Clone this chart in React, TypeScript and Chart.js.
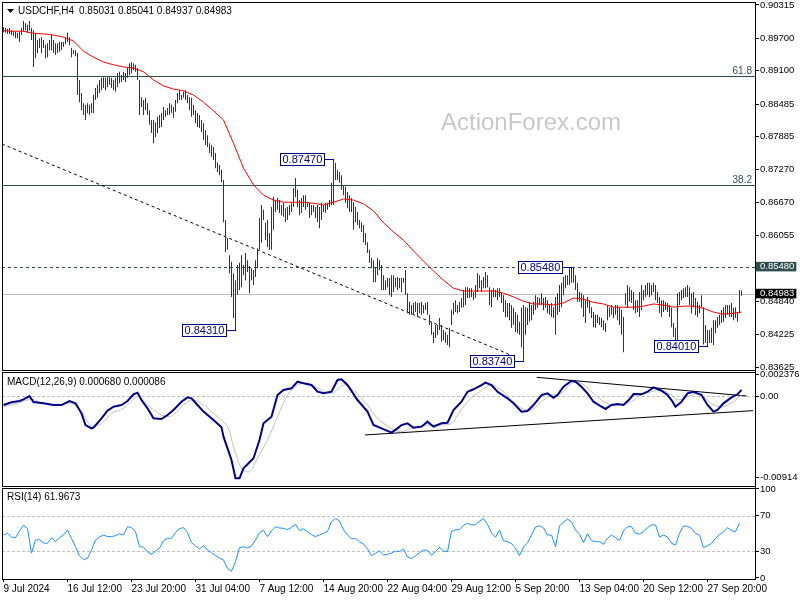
import React, { useEffect, useRef } from 'react';
import Chart from 'chart.js/auto';

const FONT = '"Liberation Sans", Arial, sans-serif';

// ---- H4 bars (bar index 0 = first bar on screen) ----
const barHigh = [
.8991,.8989,.8987,.8989,.8985,.8983,.8982,.8980,.8982,.8989,
.9002,.8998,.8995,.9002,.8989,.8985,.8980,.8967,.8970,.8972,
.8967,.8958,.8961,.8967,.8976,.8967,.8961,.8961,.8963,.8963,
.8963,.8972,.8980,.8972,.8952,.8948,.8948,.8943,.8893,.8869,
.8850,.8847,.8850,.8847,.8850,.8865,.8878,.8884,.8893,.8897,
.8898,.8897,.8898,.8898,.8897,.8893,.8897,.8906,.8908,.8902,
.8908,.8906,.8915,.8924,.8926,.8924,.8921,.8915,.8893,.8861,
.8856,.8860,.8850,.8837,.8819,.8819,.8815,.8825,.8828,.8832,
.8843,.8837,.8841,.8850,.8847,.8843,.8856,.8869,.8874,.8865,
.8871,.8874,.8865,.8861,.8860,.8847,.8837,.8832,.8828,.8819,
.8813,.8800,.8791,.8776,.8773,.8769,.8758,.8741,.8736,.8727,
.8708,.8634,.8601,.8569,.8557,.8536,.8523,.8551,.8555,.8569,
.8551,.8573,.8560,.8549,.8545,.8542,.8560,.8582,.8638,.8662,
.8653,.8629,.8634,.8610,.8658,.8677,.8671,.8675,.8671,.8662,
.8666,.8656,.8658,.8662,.8666,.8693,.8712,.8690,.8671,.8675,
.8680,.8680,.8667,.8667,.8662,.8662,.8658,.8662,.8658,.8666,
.8662,.8666,.8666,.8671,.8703,.8747,.8740,.8727,.8723,.8717,
.8699,.8695,.8686,.8680,.8675,.8667,.8658,.8649,.8634,.8630,
.8625,.8610,.8593,.8579,.8564,.8560,.8547,.8564,.8560,.8551,
.8532,.8523,.8527,.8527,.8532,.8532,.8527,.8529,.8527,.8527,
.8527,.8542,.8499,.8483,.8477,.8481,.8483,.8481,.8481,.8483,
.8477,.8481,.8483,.8459,.8446,.8427,.8440,.8440,.8453,.8440,
.8431,.8427,.8422,.8435,.8468,.8481,.8486,.8477,.8483,.8490,
.8505,.8510,.8510,.8508,.8508,.8501,.8514,.8536,.8532,.8523,
.8529,.8538,.8532,.8510,.8505,.8508,.8505,.8508,.8508,.8501,
.8495,.8486,.8481,.8481,.8477,.8472,.8464,.8459,.8446,.8472,
.8477,.8473,.8472,.8483,.8477,.8483,.8495,.8492,.8490,.8499,
.8490,.8492,.8486,.8477,.8481,.8473,.8492,.8499,.8514,.8518,
.8529,.8532,.8532,.8547,.8548,.8547,.8532,.8518,.8501,.8499,
.8495,.8486,.8492,.8486,.8473,.8464,.8459,.8459,.8455,.8453,
.8449,.8444,.8477,.8473,.8477,.8472,.8477,.8477,.8473,.8468,
.8455,.8499,.8514,.8510,.8505,.8501,.8486,.8486,.8501,.8514,
.8505,.8514,.8518,.8518,.8514,.8518,.8514,.8501,.8492,.8486,
.8486,.8483,.8481,.8477,.8472,.8444,.8435,.8499,.8501,.8505,
.8508,.8510,.8514,.8510,.8499,.8501,.8490,.8483,.8477,.8495,
.8473,.8440,.8431,.8431,.8435,.8449,.8449,.8455,.8459,.8468,
.8473,.8477,.8477,.8477,.8481,.8472,.8473,.8464,.8505,.8504];

const barLow = [
.8981,.8980,.8978,.8978,.8976,.8974,.8970,.8970,.8963,.8976,
.8983,.8985,.8980,.8985,.8967,.8917,.8933,.8943,.8952,.8943,
.8952,.8933,.8935,.8948,.8948,.8943,.8939,.8943,.8945,.8948,
.8954,.8959,.8963,.8957,.8935,.8941,.8937,.8865,.8852,.8837,
.8828,.8819,.8832,.8828,.8832,.8832,.8856,.8860,.8869,.8874,
.8878,.8874,.8880,.8884,.8878,.8874,.8871,.8880,.8887,.8889,
.8893,.8889,.8897,.8902,.8906,.8911,.8908,.8893,.8828,.8843,
.8828,.8837,.8828,.8810,.8795,.8776,.8787,.8795,.8804,.8806,
.8819,.8825,.8828,.8828,.8832,.8823,.8834,.8850,.8856,.8856,
.8860,.8856,.8850,.8837,.8825,.8828,.8813,.8806,.8804,.8797,
.8782,.8773,.8769,.8758,.8751,.8745,.8730,.8723,.8717,.8704,
.8630,.8575,.8579,.8536,.8492,.8453,.8431,.8496,.8505,.8510,
.8532,.8523,.8538,.8499,.8523,.8514,.8529,.8545,.8579,.8592,
.8634,.8597,.8584,.8579,.8579,.8616,.8649,.8653,.8647,.8643,
.8640,.8630,.8634,.8643,.8649,.8658,.8676,.8658,.8643,.8647,
.8658,.8653,.8658,.8638,.8643,.8649,.8638,.8630,.8619,.8634,
.8649,.8647,.8653,.8658,.8662,.8662,.8708,.8708,.8703,.8690,
.8680,.8666,.8656,.8649,.8649,.8616,.8630,.8625,.8619,.8612,
.8593,.8588,.8573,.8555,.8545,.8519,.8519,.8532,.8542,.8505,
.8505,.8505,.8510,.8495,.8492,.8501,.8510,.8505,.8508,.8501,
.8518,.8496,.8462,.8459,.8459,.8459,.8464,.8455,.8462,.8459,
.8462,.8468,.8459,.8440,.8422,.8407,.8416,.8422,.8431,.8409,
.8412,.8407,.8403,.8399,.8440,.8459,.8464,.8462,.8464,.8472,
.8473,.8477,.8490,.8490,.8492,.8486,.8490,.8501,.8508,.8501,
.8508,.8508,.8510,.8477,.8473,.8492,.8492,.8486,.8492,.8481,
.8464,.8455,.8455,.8449,.8435,.8440,.8427,.8425,.8422,.8399,
.8374,.8422,.8440,.8446,.8449,.8459,.8468,.8472,.8477,.8477,
.8468,.8472,.8462,.8459,.8455,.8453,.8422,.8459,.8464,.8473,
.8495,.8508,.8514,.8514,.8518,.8518,.8505,.8483,.8483,.8472,
.8455,.8444,.8472,.8462,.8453,.8436,.8435,.8444,.8440,.8436,
.8431,.8427,.8449,.8455,.8459,.8453,.8459,.8449,.8440,.8422,
.8390,.8477,.8472,.8483,.8481,.8468,.8462,.8464,.8455,.8468,
.8486,.8492,.8495,.8492,.8495,.8501,.8486,.8481,.8462,.8455,
.8464,.8468,.8464,.8455,.8436,.8418,.8412,.8412,.8477,.8486,
.8490,.8492,.8492,.8477,.8462,.8473,.8458,.8455,.8462,.8473,
.8404,.8407,.8401,.8407,.8407,.8403,.8425,.8435,.8440,.8444,
.8446,.8453,.8459,.8455,.8455,.8449,.8453,.8446,.8462,.8494];

// ---- moving average (red) ----
const smaBars = [0,5,10,15,20,25,30,35,40,45,50,55,60,65,70,75,80,85,90,95,100,105,110,115,120,125,130,135,140,145,150,155,160,165,170,175,180,185,190,195,200,205,210,215,220,225,230,235,240,245,250,255,260,265,270,275,280,285,290,295,300,305,310,315,320,325,330,335,340,345,350,355,360,365,369];
const smaValues = [
.8984,.8983,.8983,.8979,.8978,.8976,.8972,.8965,.8946,.8935,
.8926,.8921,.8917,.8915,.8908,.8893,.8882,.8876,.8873,.8865,
.8852,.8836,.8819,.8776,.8730,.8699,.8680,.8671,.8667,.8667,
.8667,.8665,.8662,.8667,.8673,.8671,.8664,.8651,.8629,.8612,
.8597,.8577,.8558,.8540,.8523,.8508,.8503,.8503,.8503,.8503,
.8499,.8492,.8484,.8479,.8479,.8477,.8481,.8490,.8488,.8482,
.8479,.8473,.8473,.8473,.8475,.8479,.8477,.8473,.8475,.8475,
.8471,.8464,.8460,.8462,.8464];

// ---- MACD(12,26,9) ----
const macdBars = [0,4,8,10,13,15,20,25,29,33,36,39,41,44,45,49,52,55,59,62,65,67,69,72,75,79,82,85,89,92,94,97,100,105,109,110,114,116,118,120,125,128,130,134,137,140,144,147,150,154,157,160,164,167,169,172,177,182,185,189,194,197,199,202,205,209,212,215,219,222,225,229,232,235,239,241,244,247,252,255,259,262,265,269,272,275,277,280,284,286,289,292,295,299,301,304,307,310,313,315,319,322,325,329,332,334,336,339,342,345,349,352,355,357,360,364,367,369];
const macdMain = [
-0.00101,-0.00071,-0.00056,-0.00037,0,-0.00067,-0.00082,-0.00101,-0.00101,-0.00056,
-0.00082,-0.00194,-0.00325,-0.00362,-0.00355,-0.0025,-0.00164,-0.0012,-0.00101,-0.00056,
0.00019,0.00037,-0.00045,-0.00138,-0.0025,-0.00257,-0.00213,-0.00157,-0.00064,-0.00015,
-0.00026,-0.00101,-0.00175,-0.00269,-0.0035,-0.00455,-0.00716,-0.00921,-0.00921,-0.00809,
-0.00697,-0.00492,-0.00306,-0.00232,0.00011,0.00067,0.00086,0.0016,0.00142,0.00123,
0.00048,0.0003,0.00048,0.00179,0.00187,0.00123,-0.00045,-0.00175,-0.00325,-0.00362,
-0.0041,-0.00362,-0.00325,-0.00306,-0.00355,-0.00343,-0.00287,-0.00343,-0.00306,-0.00299,
-0.00157,-0.00064,0.00048,0.00075,0.00123,0.00149,0.00123,0.00048,-0.00026,-0.00082,
-0.00175,-0.00168,-0.00101,0.00011,0.0003,-0.00019,0.00011,0.00104,0.00171,0.0016,
0.00104,0.0003,-0.00064,-0.0012,-0.00145,-0.00101,-0.0009,-0.00101,-0.00037,0.00022,
0.00019,0.00048,0.00097,0.00059,0.00011,-0.00045,-0.0012,-0.00064,0.0003,0.00048,
0.00011,-0.00101,-0.00175,-0.00157,-0.00082,-0.00015,0.00019,0.00068];
const signalBars = [0,7,14,19,27,34,39,44,49,54,60,67,72,79,84,89,94,99,105,112,115,119,123,127,132,137,142,147,152,157,164,170,175,182,187,194,199,205,212,219,224,227,232,237,244,249,254,259,264,269,274,279,284,289,294,299,304,309,314,319,324,329,334,337,342,347,350,355,360,365,369];
const macdSignal = [
-0.0012,-0.00082,-0.00037,-0.00075,-0.00101,-0.00082,-0.00175,-0.00336,-0.00306,-0.00194,
-0.00138,-0.00008,-0.00101,-0.00213,-0.00224,-0.0012,-0.00045,-0.00082,-0.00194,-0.00343,
-0.00567,-0.00809,-0.00847,-0.00697,-0.00492,-0.00232,0.00011,0.00123,0.00142,0.00086,
0.0003,0.00123,0.00067,-0.00101,-0.0025,-0.00362,-0.004,-0.0035,-0.00325,-0.00325,
-0.00306,-0.00213,-0.00064,0.0003,0.00123,0.00067,-0.00045,-0.00138,-0.00157,-0.00064,
0.00011,0.0003,0.00142,0.00142,0.00048,-0.00045,-0.00101,-0.00101,-0.00064,0.00011,
0.00048,0.00067,0.00011,-0.00045,-0.00008,0.0003,-0.00008,-0.00101,-0.0012,-0.00064,
0.00009];

// ---- RSI(14), one reading every 2 bars ----
const rsiStep = 2;
const rsiValues = [
48.3,50.2,46,45.3,53,59.2,55.4,28,42.7,43.1,
39.3,39,45.3,40.8,45.3,48.3,54.1,44.2,35.2,24.7,
20.6,22.1,31.5,42.7,46,48.3,46.5,46.5,47.6,49.8,
48.3,57.7,56.6,52.1,35.2,34.8,29.2,26.6,30.3,33.3,
42,44.6,44.6,51.3,55.4,56.6,51,39.7,36,32.6,
36.3,31.5,28.5,25.1,22.5,20.2,10.9,7.5,18.4,34.1,
35.2,33.7,36,42.7,51,53.6,46.5,52.8,57.7,56.2,
55.8,54.3,57,60.3,53.2,55.4,51.7,48.7,46.5,48.3,
50.2,52.4,63.3,67,64,54.1,48.3,43.8,44.6,40.5,
38.2,32.6,25.1,27.7,30.3,25.9,26.6,28.1,30.3,29.6,
32.6,23.6,21.7,25.1,28.5,31.5,31.1,25.5,29.6,34.5,
30.3,29.6,52.8,54,54.7,59.2,61.4,59.6,59.9,64,
66.7,60.3,50.6,45.7,54,41.6,40.8,38.6,33.3,25,
35.2,39.3,48.3,57.3,58.8,56.2,48.3,48.3,35.2,58.4,
62.9,66.3,62.9,54,49.1,39.7,49.8,42,40.8,40.8,
37.8,44.6,48.3,45.3,42.3,52.8,57.7,57.7,50.2,49.4,
52.1,56.6,59.6,59.6,45.7,48.3,46,39,37.1,50.2,
58.4,58.1,55.8,50.2,48.3,34.1,36.3,39,44.6,48.7,
51.7,56.6,53.2,52.1,62];
const rsiLevels = [70, 30];

// ---- axes ----
const xTickBars = [0,32,64,96,128,160,192,224,256,288,320,352];
const xTickLabels = ['9 Jul 2024','16 Jul 12:00','23 Jul 20:00','31 Jul 04:00','7 Aug 12:00','14 Aug 20:00','22 Aug 04:00','29 Aug 12:00','5 Sep 20:00','13 Sep 04:00','20 Sep 12:00','27 Sep 20:00'];
const priceTicks = [0.83625,0.84225,0.84840,0.84983,0.85480,0.86055,0.86670,0.87270,0.87885,0.88485,0.89100,0.89700,0.90315];
const macdTicks = [-0.00914, 0, 0.002376];
const macdTickLabels = ['-0.00914', '0.00', '0.002376'];
const rsiTicks = [0, 30, 70, 100];

// ---- drawn objects ----
const fibLevels = [0.8900, 0.8698];
const fibNames = ['61.8', '38.2'];
const resistanceLevel = 0.8548;
const lastPrice = 0.84983;
const trendBars = [-0.75, 256];
const trendValues = [0.87746, 0.8381];
const macdUpperBars = [266.6, 371.6];
const macdUpperValues = [0.00209, 0];
const macdLowerBars = [180.75, 374.75];
const macdLowerValues = [-0.00436, -0.00164];
const markBars = [116, 165, 260, 284, 352];
const markValues = [0.8431, 0.8747, 0.8374, 0.8548, 0.8401];

const symbolText = 'USDCHF,H4';
const quoteText = '0.85031 0.85041 0.84937 0.84983';
const macdTitle = 'MACD(12,26,9) 0.000680 0.000086';
const rsiTitle = 'RSI(14) 61.9673';

export default function App() {
  const ref = useRef<HTMLCanvasElement>(null);

  useEffect(() => {
    const canvas = ref.current as HTMLCanvasElement;
    Chart.defaults.font.family = FONT;
    const BAR = '#163c5a';
    const NAVY = '#00008b';

    const hline = (ctx: any, x0: number, x1: number, y: number, color: string, dash: number[] = []) => {
      ctx.save();
      ctx.strokeStyle = color;
      ctx.lineWidth = 1;
      ctx.setLineDash(dash);
      const yy = Math.round(y) + 0.5;
      ctx.beginPath();
      ctx.moveTo(x0, yy);
      ctx.lineTo(x1, yy);
      ctx.stroke();
      ctx.restore();
    };
    const seg = (ctx: any, x0: number, y0: number, x1: number, y1: number, color: string, dash: number[] = []) => {
      ctx.save();
      ctx.strokeStyle = color;
      ctx.lineWidth = 1;
      ctx.setLineDash(dash);
      ctx.beginPath();
      ctx.moveTo(x0, y0);
      ctx.lineTo(x1, y1);
      ctx.stroke();
      ctx.restore();
    };

    const overlay = {
      id: 'mt4overlay',
      beforeDraw(chart: any) {
        const ctx = chart.ctx;
        ctx.save();
        ctx.fillStyle = '#ffffff';
        ctx.fillRect(0, 0, chart.width, chart.height);
        ctx.restore();
      },
      beforeDatasetsDraw(chart: any) {
        const { ctx, chartArea: a, scales } = chart;
        const sx = scales.x, sy = scales.y, sm = scales.yM, sr = scales.yR;
        // watermark
        ctx.save();
        ctx.font = `24px ${FONT}`;
        ctx.fillStyle = '#c8c8c8';
        ctx.textBaseline = 'alphabetic';
        ctx.fillText('ActionForex.com', 441, 130);
        ctx.restore();
        // fibonacci levels
        fibLevels.forEach((v, k) => {
          const y = sy.getPixelForValue(v);
          hline(ctx, a.left, a.right, y, '#2f4f4f');
          ctx.save();
          ctx.font = `10px ${FONT}`;
          ctx.fillStyle = '#2f4f4f';
          ctx.textAlign = 'right';
          ctx.textBaseline = 'alphabetic';
          ctx.fillText(fibNames[k], a.right - 3, Math.round(y) - 2);
          ctx.restore();
        });
        hline(ctx, a.left, a.right, sy.getPixelForValue(resistanceLevel), '#2f4f4f', [3, 3]);
        hline(ctx, a.left, a.right, sy.getPixelForValue(lastPrice), '#c0c0c0');
        seg(ctx, sx.getPixelForValue(trendBars[0]), sy.getPixelForValue(trendValues[0]),
          sx.getPixelForValue(trendBars[1]), sy.getPixelForValue(trendValues[1]), '#000000', [3, 3]);
        // MACD pane
        hline(ctx, a.left, a.right, sm.getPixelForValue(0), '#c0c0c0', [3, 2]);
        seg(ctx, sx.getPixelForValue(macdUpperBars[0]), sm.getPixelForValue(macdUpperValues[0]),
          sx.getPixelForValue(macdUpperBars[1]), sm.getPixelForValue(macdUpperValues[1]), '#000000');
        seg(ctx, sx.getPixelForValue(macdLowerBars[0]), sm.getPixelForValue(macdLowerValues[0]),
          sx.getPixelForValue(macdLowerBars[1]), sm.getPixelForValue(macdLowerValues[1]), '#000000');
        // RSI pane
        rsiLevels.forEach((v) => hline(ctx, a.left, a.right, sr.getPixelForValue(v), '#c0c0c0', [3, 2]));
      },
      afterDatasetsDraw(chart: any) {
        const { ctx, scales } = chart;
        const sx = scales.x, sy = scales.y;
        ctx.save();
        ctx.font = `11px ${FONT}`;
        markBars.forEach((b, k) => {
          const x = Math.round(sx.getPixelForValue(b));
          const y = Math.round(sy.getPixelForValue(markValues[k]));
          const txt = markValues[k].toFixed(5);
          const w = Math.ceil(ctx.measureText(txt).width) + 4;
          const h = 12;
          const right = x - 10;
          const left = right - w;
          const top = y - 6;
          ctx.fillStyle = '#ffffff';
          ctx.fillRect(left, top, w, h);
          ctx.strokeStyle = NAVY;
          ctx.lineWidth = 1;
          ctx.strokeRect(left + 0.5, top + 0.5, w, h);
          ctx.beginPath();
          ctx.moveTo(right, y + 0.5);
          ctx.lineTo(x, y + 0.5);
          ctx.stroke();
          ctx.fillStyle = NAVY;
          ctx.textBaseline = 'middle';
          ctx.textAlign = 'left';
          ctx.fillText(txt, left + 2.5, y + 1);
        });
        ctx.restore();
      },
      afterDraw(chart: any) {
        const { ctx, chartArea: a, scales } = chart;
        const sy = scales.y, sm = scales.yM, sr = scales.yR;
        ctx.save();
        ctx.strokeStyle = '#000000';
        ctx.lineWidth = 1;
        const frame = (top: number, bottom: number) => {
          ctx.strokeRect(a.left + 0.5, top + 0.5, a.right - a.left, bottom - top);
        };
        frame(sy.top, sy.bottom - 1);
        frame(sm.top + 1, sm.bottom - 1);
        frame(sr.top + 1, sr.bottom);
        // titles
        ctx.fillStyle = '#000000';
        ctx.beginPath();
        ctx.moveTo(7, 9);
        ctx.lineTo(14, 9);
        ctx.lineTo(10.5, 13);
        ctx.closePath();
        ctx.fill();
        ctx.font = `10px ${FONT}`;
        ctx.textBaseline = 'middle';
        ctx.textAlign = 'left';
        ctx.fillText(symbolText, 18, 11);
        ctx.fillText(quoteText, 79, 11);
        ctx.fillText(macdTitle, 7, sm.top + 11);
        ctx.fillText(rsiTitle, 7, sr.top + 10);
        ctx.restore();
      },
    };

    const yCommon = (weight: number, stackWeight: number) => ({
      type: 'linear' as const,
      position: 'right' as const,
      stack: 'panes',
      stackWeight,
      weight,
      bounds: 'data' as const,
      grid: { display: true, drawOnChartArea: false, drawTicks: true, tickLength: 4, color: '#000000' },
      border: { display: true, color: '#000000' },
      afterFit: (s: any) => { s.width = 45; s.paddingTop = 0; s.paddingBottom = 0; },
    });

    const tickFont = { family: FONT, size: 9.5, lineHeight: 1 };
    const xFont = { family: FONT, size: 10, lineHeight: 1 };

    const chart = new Chart(canvas, {
      type: 'bar',
      data: {
        datasets: [
          {
            type: 'bar',
            data: barHigh.map((h, i) => ({ x: i, y: [barLow[i], h] })) as any,
            backgroundColor: BAR,
            borderWidth: 0,
            barThickness: 1,
            inflateAmount: 0,
            xAxisID: 'x',
            yAxisID: 'y',
            order: 3,
          } as any,
          {
            type: 'line',
            data: smaBars.map((b, k) => ({ x: b, y: smaValues[k] })),
            borderColor: '#ff0000',
            borderWidth: 1,
            pointRadius: 0,
            tension: 0,
            fill: false,
            xAxisID: 'x',
            yAxisID: 'y',
            order: 1,
          } as any,
          {
            type: 'line',
            data: signalBars.map((b, k) => ({ x: b, y: macdSignal[k] })),
            borderColor: '#c0c0c0',
            borderWidth: 1,
            pointRadius: 0,
            tension: 0.3,
            fill: false,
            xAxisID: 'x',
            yAxisID: 'yM',
            order: 2,
          } as any,
          {
            type: 'line',
            data: macdBars.map((b, k) => ({ x: b, y: macdMain[k] })),
            borderColor: NAVY,
            borderWidth: 2,
            pointRadius: 0,
            tension: 0,
            fill: false,
            xAxisID: 'x',
            yAxisID: 'yM',
            order: 1,
          } as any,
          {
            type: 'line',
            data: rsiValues.map((v, j) => ({ x: j * rsiStep, y: v })),
            borderColor: '#1e90ff',
            borderWidth: 1,
            pointRadius: 0,
            tension: 0,
            fill: false,
            xAxisID: 'x',
            yAxisID: 'yR',
            order: 1,
          } as any,
        ],
      },
      options: {
        responsive: false,
        maintainAspectRatio: false,
        animation: false,
        devicePixelRatio: 1,
        events: [],
        layout: { padding: { left: 2, top: 2, right: 0, bottom: 0 } },
        plugins: {
          legend: { display: false },
          tooltip: { enabled: false },
          title: { display: false },
        },
        scales: {
          x: {
            type: 'linear',
            position: 'bottom',
            min: -0.75,
            max: 375.75,
            offset: false,
            bounds: 'data',
            grid: { display: true, offset: false, drawOnChartArea: false, drawTicks: true, tickLength: 3, color: '#000000' },
            border: { display: false },
            ticks: {
              autoSkip: false,
              maxRotation: 0,
              minRotation: 0,
              align: 'start',
              padding: 2,
              color: '#000000',
              font: xFont,
              callback: (v: any) => {
                const k = xTickBars.indexOf(Number(v));
                return k >= 0 ? xTickLabels[k] : '';
              },
            },
            afterBuildTicks: (s: any) => { s.ticks = xTickBars.map((v) => ({ value: v })); },
            afterFit: (s: any) => { s.height = 21; s.paddingLeft = 0; s.paddingRight = 0; },
          } as any,
          y: {
            ...yCommon(1, 369),
            min: 0.835513,
            max: 0.903704,
            ticks: {
              autoSkip: false,
              padding: 1,
              font: tickFont,
              color: (c: any) => (c.tick && (c.tick.value === 0.8548 || c.tick.value === 0.84983) ? '#ffffff' : '#000000'),
              showLabelBackdrop: true,
              backdropPadding: { top: 0, bottom: 0, left: 4, right: 2 },
              backdropColor: (c: any) => {
                if (!c.tick) return 'rgba(0,0,0,0)';
                if (c.tick.value === 0.8548) return '#2f4f4f';
                if (c.tick.value === 0.84983) return '#000000';
                return 'rgba(0,0,0,0)';
              },
              callback: (v: any) => Number(v).toFixed(5),
            },
            afterBuildTicks: (s: any) => { s.ticks = priceTicks.map((v) => ({ value: v })); },
          } as any,
          yM: {
            ...yCommon(2, 116),
            min: -0.0101829,
            max: 0.0027975,
            ticks: {
              autoSkip: false,
              padding: 1,
              font: tickFont,
              color: '#000000',
              callback: (v: any) => {
                const k = macdTicks.indexOf(Number(v));
                return k >= 0 ? macdTickLabels[k] : '';
              },
            },
            afterBuildTicks: (s: any) => { s.ticks = macdTicks.map((v) => ({ value: v })); },
          } as any,
          yR: {
            ...yCommon(3, 92),
            min: -1.124,
            max: 102.247,
            ticks: {
              autoSkip: false,
              padding: 1,
              font: tickFont,
              color: '#000000',
              callback: (v: any) => String(v),
            },
            afterBuildTicks: (s: any) => { s.ticks = rsiTicks.map((v) => ({ value: v })); },
          } as any,
        },
      },
      plugins: [overlay],
    } as any);

    return () => chart.destroy();
  }, []);

  return (
    <div style={{ position: 'fixed', left: 0, top: 0, width: 800, height: 600, background: '#ffffff' }}>
      <canvas ref={ref} width={800} height={600} style={{ display: 'block', width: 800, height: 600 }} />
    </div>
  );
}
